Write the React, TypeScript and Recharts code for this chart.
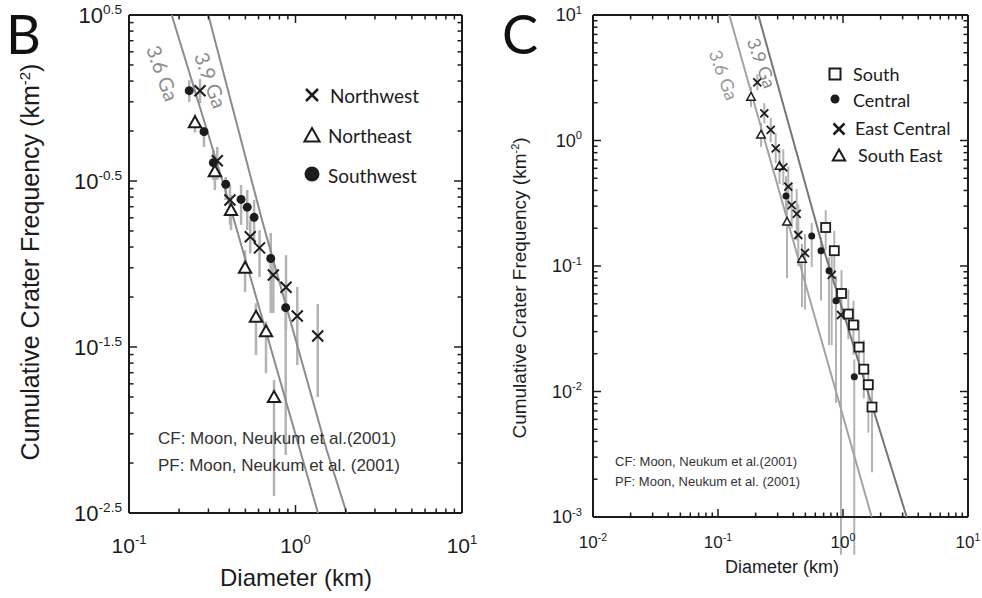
import React from "react";
import { ScatterChart, Scatter, XAxis, YAxis, ErrorBar } from "recharts";

// ---- panel B (three units) ----
const nwDiam = [0.267, 0.339, 0.404, 0.535, 0.608, 0.736, 0.877, 1.025, 1.36];
const nwFreq = [1.107, 0.419, 0.243, 0.146, 0.125, 0.0859, 0.0724, 0.0486, 0.0368];
const nwLow = [0.93, 0.321, 0.172, 0.116, 0.0835, 0.0507, 0.04, 0.0246, 0.0158];
const nwHigh = [1.3, 0.507, 0.299, 0.184, 0.16, 0.108, 0.113, 0.0727, 0.0574];

const neDiam = [0.249, 0.328, 0.41, 0.498, 0.579, 0.665, 0.743];
const neFreq = [0.71, 0.36, 0.21, 0.0942, 0.0478, 0.0391, 0.0157];
const neLow = [0.62, 0.279, 0.16, 0.0678, 0.0283, 0.022, 0.004];
const neHigh = [0.8, 0.424, 0.26, 0.121, 0.058, 0.045, 0.02];

const swDiam = [0.23, 0.282, 0.321, 0.381, 0.471, 0.513, 0.564, 0.71, 0.873];
const swFreq = [1.107, 0.627, 0.408, 0.302, 0.245, 0.22, 0.191, 0.108, 0.0546];
const swLow = [0.946, 0.507, 0.321, 0.243, 0.172, 0.16, 0.134, 0.0507, 0.00707];
const swHigh = [1.28, 0.668, 0.486, 0.334, 0.299, 0.279, 0.243, 0.154, 0.0697];

const b36Diam = [0.1805, 0.395, 1.064, 1.365];
const b36Freq = [3.162, 0.243, 0.00758, 0.003162];
const b39Diam = [0.2995, 0.629, 1.539, 2.03];
const b39Freq = [3.162, 0.184, 0.00758, 0.003162];

const bXMajors = [0.1, 1, 10];
const bXExps = ["-1", "0", "1"];
const bYMajors = [0.0031623, 0.031623, 0.31623, 3.1623];
const bYExps = ["-2.5", "-1.5", "-0.5", "0.5"];

// ---- panel C (four units) ----
const soDiam = [0.727, 0.852, 0.973, 1.103, 1.213, 1.343, 1.467, 1.594, 1.706];
const soFreq = [0.2027, 0.1324, 0.0604, 0.0414, 0.0339, 0.0226, 0.01506, 0.01133, 0.00752];
const soLow = [0.134, 0.085, 0.037, 0.026, 0.0196, 0.0137, 0.0088, 0.0047, 0.00227];
const soHigh = [0.279, 0.19, 0.093, 0.065, 0.053, 0.037, 0.0256, 0.0149, 0.0125];

const ceDiam = [0.35, 0.562, 0.667, 0.773, 0.879, 1.231];
const ceFreq = [0.361, 0.1734, 0.1324, 0.0918, 0.0529, 0.0131];
const ceLow = [0.25, 0.098, 0.053, 0.0234, 0.0081, 0.0005];
const ceHigh = [0.52, 0.22, 0.17, 0.118, 0.0834, 0.018];

const ecDiam = [0.2063, 0.2347, 0.264, 0.2894, 0.333, 0.365, 0.3887, 0.4262, 0.4389, 0.4966, 0.812, 0.964];
const ecFreq = [2.91, 1.648, 1.213, 0.867, 0.6115, 0.4285, 0.306, 0.2597, 0.1766, 0.127, 0.0848, 0.0407];
const ecLow = [2.51, 1.37, 0.97, 0.66, 0.44, 0.3, 0.2, 0.16, 0.1, 0.045, 0.0234, 0.0005];
const ecHigh = [3.37, 1.98, 1.51, 1.14, 0.85, 0.62, 0.46, 0.41, 0.31, 0.18, 0.134, 0.064];

const seDiam = [0.1837, 0.2208, 0.3105, 0.3565, 0.47];
const seFreq = [2.222, 1.107, 0.626, 0.2243, 0.1137];
const seLow = [1.85, 0.89, 0.45, 0.08, 0.047];
const seHigh = [2.67, 1.38, 0.87, 0.34, 0.15];

const c36Diam = [0.1231, 0.5445, 1.696];
const c36Freq = [10, 0.0536, 0.001];
const c39Diam = [0.2101, 0.6755, 3.233];
const c39Freq = [10, 0.1526, 0.001];

const cXMajors = [0.01, 0.1, 1, 10];
const cXExps = ["-2", "-1", "0", "1"];
const cYMajors = [0.001, 0.01, 0.1, 1, 10];
const cYExps = ["-3", "-2", "-1", "0", "1"];

const minorMult = [2, 3, 4, 5, 6, 7, 8, 9];

const ink = "#1c1c1c";
const sans = "'Liberation Sans', Arial, sans-serif";
const soft = "Lato, 'Open Sans', sans-serif";

const pts = (d: number[], n: number[], lo: number[], hi: number[]) =>
  d.map((x, i) => ({ d: x, n: n[i], err: [n[i] - lo[i], hi[i] - n[i]] }));
const line = (d: number[], n: number[]) => d.map((x, i) => ({ d: x, n: n[i] }));

const allTicks = (majors: number[]) => {
  const top = majors[majors.length - 1];
  const out: number[] = [];
  majors.forEach((m) => {
    out.push(m);
    minorMult.forEach((k) => {
      if (m * k < top * 1.0001) out.push(m * k);
    });
  });
  return out;
};

type Side = "left" | "right" | "top" | "bottom";
const logTick =
  (side: Side, majors: number[], exps: string[] | null, fs: number, gap: number) =>
  (p: any) => {
    const { x, y, payload } = p;
    const v = payload.value;
    const i = majors.findIndex((m) => Math.abs(m - v) / m < 1e-4);
    const len = i >= 0 ? 8 : 4.5;
    const dx = side === "left" ? len : side === "right" ? -len : 0;
    const dy = side === "bottom" ? -len : side === "top" ? len : 0;
    let label = null;
    if (exps && i >= 0) {
      const sup = (
        <tspan dy={-fs * 0.42} fontSize={fs * 0.62}>
          {exps[i]}
        </tspan>
      );
      if (side === "left")
        label = (
          <text x={x - gap} y={y + fs * 0.36} textAnchor="end" fontSize={fs} fill={ink} fontFamily={sans}>
            10{sup}
          </text>
        );
      else
        label = (
          <text x={x} y={y + gap} textAnchor="middle" fontSize={fs} fill={ink} fontFamily={sans}>
            10{sup}
          </text>
        );
    }
    return (
      <g>
        <line x1={x} y1={y} x2={x + dx} y2={y + dy} stroke={ink} strokeWidth={1.5} />
        {label}
      </g>
    );
  };

const xMark = (s: number, w: number) => (p: any) => {
  const { cx, cy } = p;
  return (
    <path
      d={`M${cx - s} ${cy - s}L${cx + s} ${cy + s}M${cx - s} ${cy + s}L${cx + s} ${cy - s}`}
      stroke={ink}
      strokeWidth={w}
      fill="none"
    />
  );
};
const triMark = (s: number, w: number) => (p: any) => {
  const { cx, cy } = p;
  return (
    <path
      d={`M${cx} ${cy - s}L${cx + s * 0.95} ${cy + s * 0.7}L${cx - s * 0.95} ${cy + s * 0.7}Z`}
      stroke={ink}
      strokeWidth={w}
      fill="#fff"
    />
  );
};
const dotMark = (r: number) => (p: any) => <circle cx={p.cx} cy={p.cy} r={r} fill={ink} />;
const boxMark = (s: number, w: number) => (p: any) => (
  <rect x={p.cx - s} y={p.cy - s} width={2 * s} height={2 * s} stroke={ink} strokeWidth={w} fill="#fff" />
);
const noMark = () => <g />;

const frame = { stroke: ink, strokeWidth: 2 };

const Panel = (props: {
  w: number;
  h: number;
  margin: any;
  xMaj: number[];
  xExp: string[];
  yMaj: number[];
  yExp: string[];
  xFs: number;
  yFs: number;
  xGap: number;
  yGap: number;
  children: React.ReactNode;
}) => {
  const { w, h, margin, xMaj, xExp, yMaj, yExp, xFs, yFs, xGap, yGap } = props;
  const xDom = [xMaj[0], xMaj[xMaj.length - 1]];
  const yDom = [yMaj[0], yMaj[yMaj.length - 1]];
  const xT = allTicks(xMaj);
  const yT = allTicks(yMaj);
  return (
    <ScatterChart width={w} height={h} margin={margin}>
      <XAxis
        dataKey="d"
        type="number"
        scale="log"
        domain={xDom}
        allowDataOverflow
        ticks={xT}
        interval={0}
        tickSize={0}
        tickMargin={0}
        tickLine={false}
        axisLine={frame}
        height={40}
        tick={logTick("bottom", xMaj, xExp, xFs, xGap)}
      />
      <XAxis
        xAxisId="top"
        orientation="top"
        dataKey="d"
        type="number"
        scale="log"
        domain={xDom}
        allowDataOverflow
        ticks={xT}
        interval={0}
        tickSize={0}
        tickMargin={0}
        tickLine={false}
        axisLine={frame}
        height={1}
        tick={logTick("top", xMaj, null, xFs, 0)}
      />
      <YAxis
        dataKey="n"
        type="number"
        scale="log"
        domain={yDom}
        allowDataOverflow
        ticks={yT}
        interval={0}
        tickSize={0}
        tickMargin={0}
        tickLine={false}
        axisLine={frame}
        width={60}
        tick={logTick("left", yMaj, yExp, yFs, yGap)}
      />
      <YAxis
        yAxisId="right"
        orientation="right"
        dataKey="n"
        type="number"
        scale="log"
        domain={yDom}
        allowDataOverflow
        ticks={yT}
        interval={0}
        tickSize={0}
        tickMargin={0}
        tickLine={false}
        axisLine={frame}
        width={1}
        tick={logTick("right", yMaj, null, yFs, 0)}
      />
      {props.children}
    </ScatterChart>
  );
};

const bar = (c: string, w: number) => (
  <ErrorBar dataKey="err" direction="y" width={0} stroke={c} strokeWidth={w} />
);

const App = () => {
  return (
    <div style={{ position: "absolute", left: 0, top: 0, width: 982, height: 598, background: "#fff" }}>
      <div style={{ position: "absolute", left: 0, top: 0 }}>
        <Panel
          w={490}
          h={598}
          margin={{ top: 14, right: 27, bottom: 45, left: 69 }}
          xMaj={bXMajors}
          xExp={bXExps}
          yMaj={bYMajors}
          yExp={bYExps}
          xFs={21}
          yFs={22}
          xGap={40}
          yGap={7}
        >
          <Scatter data={line(b36Diam, b36Freq)} line={{ stroke: "#8c8c8c", strokeWidth: 2 }} lineType="joint" shape={noMark} isAnimationActive={false} />
          <Scatter data={line(b39Diam, b39Freq)} line={{ stroke: "#8c8c8c", strokeWidth: 2 }} lineType="joint" shape={noMark} isAnimationActive={false} />
          <Scatter data={pts(swDiam, swFreq, swLow, swHigh)} shape={dotMark(4.5)} isAnimationActive={false}>
            {bar("#b3b3b3", 2.5)}
          </Scatter>
          <Scatter data={pts(neDiam, neFreq, neLow, neHigh)} shape={triMark(6.5, 2)} isAnimationActive={false}>
            {bar("#b3b3b3", 2.5)}
          </Scatter>
          <Scatter data={pts(nwDiam, nwFreq, nwLow, nwHigh)} shape={xMark(5.5, 2)} isAnimationActive={false}>
            {bar("#b3b3b3", 2.5)}
          </Scatter>
        </Panel>
      </div>
      <div style={{ position: "absolute", left: 490, top: 0 }}>
        <Panel
          w={492}
          h={598}
          margin={{ top: 14, right: 13, bottom: 41, left: 43 }}
          xMaj={cXMajors}
          xExp={cXExps}
          yMaj={cYMajors}
          yExp={cYExps}
          xFs={17}
          yFs={18}
          xGap={31}
          yGap={11}
        >
          <Scatter data={line(c36Diam, c36Freq)} line={{ stroke: "#a3a3a3", strokeWidth: 2 }} lineType="joint" shape={noMark} isAnimationActive={false} />
          <Scatter data={line(c39Diam, c39Freq)} line={{ stroke: "#767676", strokeWidth: 2 }} lineType="joint" shape={noMark} isAnimationActive={false} />
          <Scatter data={pts(soDiam, soFreq, soLow, soHigh)} shape={boxMark(4.5, 1.8)} isAnimationActive={false}>
            {bar("#b3b3b3", 2)}
          </Scatter>
          <Scatter data={pts(seDiam, seFreq, seLow, seHigh)} shape={triMark(4.5, 1.5)} isAnimationActive={false}>
            {bar("#b3b3b3", 2)}
          </Scatter>
          <Scatter data={pts(ceDiam, ceFreq, ceLow, ceHigh)} shape={dotMark(3.5)} isAnimationActive={false}>
            {bar("#b3b3b3", 2)}
          </Scatter>
          <Scatter data={pts(ecDiam, ecFreq, ecLow, ecHigh)} shape={xMark(4, 1.8)} isAnimationActive={false}>
            {bar("#b3b3b3", 2)}
          </Scatter>
        </Panel>
      </div>

      <svg width={982} height={598} style={{ position: "absolute", left: 0, top: 0, pointerEvents: "none" }}>
        {/* panel letters */}
        <text x={6} y={54} fontSize={54} fontFamily={soft} fill="#111">B</text>
        <text x={502} y={54} fontSize={54} fontFamily={soft} fill="#111">C</text>

        {/* axis titles */}
        <text transform="translate(39,262) rotate(-90)" textAnchor="middle" fontSize={25} fontFamily={sans} fill={ink}>
          Cumulative Crater Frequency (km<tspan dy={-9} fontSize={15}>-2</tspan><tspan dy={9}>)</tspan>
        </text>
        <text x={296} y={586} textAnchor="middle" fontSize={24} fontFamily={sans} fill={ink}>Diameter (km)</text>
        <text transform="translate(526,288) rotate(-90)" textAnchor="middle" fontSize={19} fontFamily={sans} fill={ink}>
          Cumulative Crater Frequency (km<tspan dy={-7} fontSize={11}>-2</tspan><tspan dy={7}>)</tspan>
        </text>
        <text x={782} y={573} textAnchor="middle" fontSize={18} fontFamily={sans} fill={ink}>Diameter (km)</text>

        {/* isochron labels */}
        <text transform="translate(163,73) rotate(70)" textAnchor="middle" dominantBaseline="central" fontSize={20} fontFamily={soft} fill="#8c8c8c">3.6 Ga</text>
        <text transform="translate(211,80) rotate(70)" textAnchor="middle" dominantBaseline="central" fontSize={20} fontFamily={soft} fill="#8c8c8c">3.9 Ga</text>
        <text transform="translate(724,75) rotate(70)" textAnchor="middle" dominantBaseline="central" fontSize={18} fontFamily={soft} fill="#999">3.6 Ga</text>
        <text transform="translate(762,63) rotate(70)" textAnchor="middle" dominantBaseline="central" fontSize={18} fontFamily={soft} fill="#888">3.9 Ga</text>

        {/* legend B */}
        {xMark(6, 2.5)({ cx: 312, cy: 95 })}
        <text x={330} y={95} dominantBaseline="central" fontSize={19} fontFamily={soft} fill={ink}>Northwest</text>
        {triMark(8, 2)({ cx: 312, cy: 136 })}
        <text x={328} y={135} dominantBaseline="central" fontSize={19} fontFamily={soft} fill={ink}>Northeast</text>
        <circle cx={312} cy={174} r={7.5} fill={ink} />
        <text x={328} y={175} dominantBaseline="central" fontSize={19} fontFamily={soft} fill={ink}>Southwest</text>

        {/* legend C */}
        {boxMark(5.5, 2)({ cx: 835, cy: 74 })}
        <text x={853} y={74} dominantBaseline="central" fontSize={18} fontFamily={soft} fill={ink}>South</text>
        <circle cx={835} cy={99} r={4.5} fill={ink} />
        <text x={853} y={100} dominantBaseline="central" fontSize={18} fontFamily={soft} fill={ink}>Central</text>
        {xMark(5.5, 2.5)({ cx: 839, cy: 129 })}
        <text x={855} y={128} dominantBaseline="central" fontSize={18} fontFamily={soft} fill={ink}>East Central</text>
        {triMark(6.5, 2)({ cx: 839, cy: 156 })}
        <text x={858} y={155} dominantBaseline="central" fontSize={18} fontFamily={soft} fill={ink}>South East</text>

        {/* sources */}
        <text x={158} y={444} fontSize={17} fontFamily={sans} fill="#333">CF: Moon, Neukum et al.(2001)</text>
        <text x={158} y={471} fontSize={17} fontFamily={sans} fill="#333">PF: Moon, Neukum et al. (2001)</text>
        <text x={615} y={466} fontSize={13} fontFamily={sans} fill="#333">CF: Moon, Neukum et al.(2001)</text>
        <text x={615} y={486} fontSize={13} fontFamily={sans} fill="#333">PF: Moon, Neukum et al. (2001)</text>
      </svg>
    </div>
  );
};

export default App;
